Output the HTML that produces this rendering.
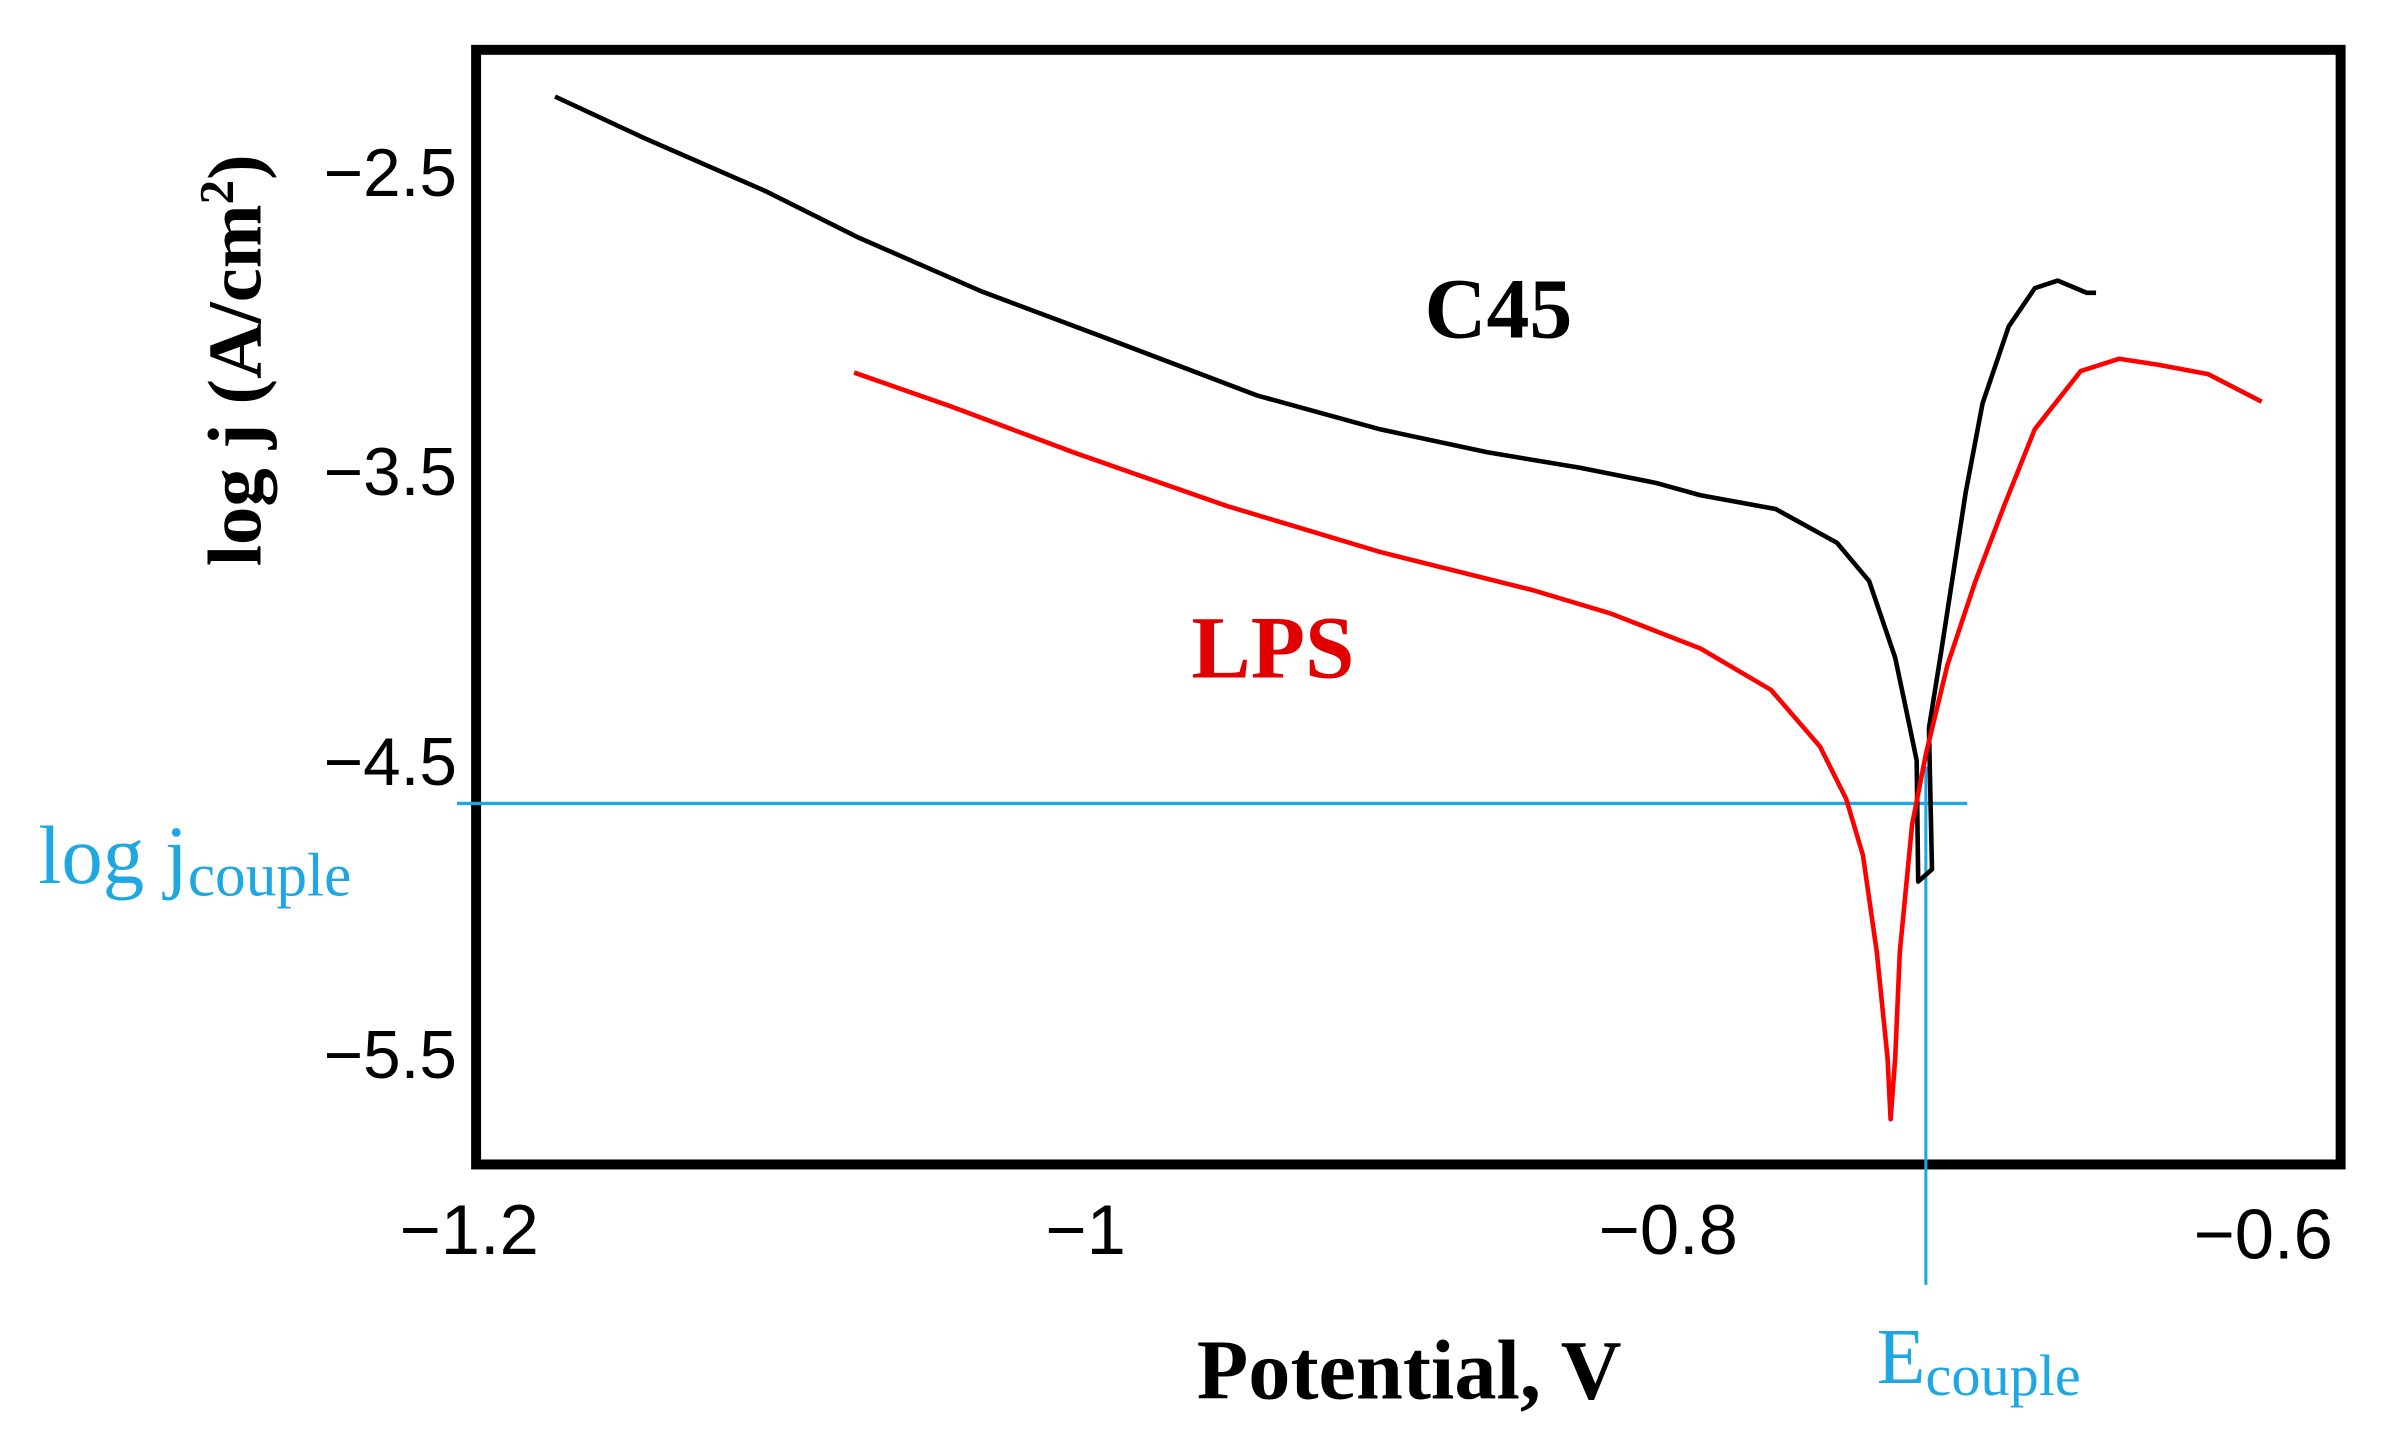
<!DOCTYPE html>
<html><head><meta charset="utf-8"><style>html,body{margin:0;padding:0;background:#fff}svg{display:block}</style></head>
<body>
<svg width="2392" height="1455" viewBox="0 0 1560 949" preserveAspectRatio="none" xmlns="http://www.w3.org/2000/svg">
<rect width="1560" height="949" fill="#fff"/>
<rect x="310.5" y="32.5" width="1216" height="727" fill="none" stroke="#000" stroke-width="6.5"/>
<g font-family="Liberation Sans, sans-serif" font-size="44" fill="#000" text-anchor="end">
<text x="298" y="128">−2.5</text>
<text x="298" y="323">−3.5</text>
<text x="298" y="512">−4.5</text>
<text x="298" y="703">−5.5</text>
</g>
<g font-family="Liberation Sans, sans-serif" font-size="46" fill="#000" text-anchor="middle">
<text x="306" y="818">−1.2</text>
<text x="708" y="818">−1</text>
<text x="1088" y="818">−0.8</text>
<text x="1476" y="821">−0.6</text>
</g>
<text transform="translate(170,235) rotate(-90)" text-anchor="middle" font-family="Liberation Serif, serif" font-weight="bold" font-size="50">log j (A/cm<tspan font-size="32" dy="-18">2</tspan><tspan dy="18">)</tspan></text>
<text x="919" y="912" text-anchor="middle" font-family="Liberation Serif, serif" font-weight="bold" font-size="55">Potential, V</text>
<text x="929" y="220" font-family="Liberation Serif, serif" font-weight="bold" font-size="56">C45</text>
<text x="777" y="442" font-family="Liberation Serif, serif" font-weight="bold" font-size="58" fill="#e00000">LPS</text>
<text x="25" y="576" font-family="Liberation Serif, serif" font-size="54" fill="#1ea7e1">log j<tspan font-size="40" dy="8">couple</tspan></text>
<text x="1224" y="902" font-family="Liberation Serif, serif" font-size="52" fill="#1ea7e1">E<tspan font-size="38" dy="8">couple</tspan></text>
<line x1="298" y1="524" x2="1283" y2="524" stroke="#1ea7e1" stroke-width="2.2"/>
<line x1="1256" y1="500" x2="1256" y2="838" stroke="#1ea7e1" stroke-width="2"/>
<polyline fill="none" stroke="#000" stroke-width="3" stroke-linejoin="round" points="362,63 420,90 500,125 560,155 640,190 720,220 820,258 900,280 970,295 1030,305 1080,315 1109,323 1158,332 1198,354 1219,379 1236,429 1244,467 1250,496 1251,575 1260,567 1258,475 1266,425 1282,321 1293,263 1310,213 1327,188 1342,183 1361,191 1367,191"/>
<polyline fill="none" stroke="#f00" stroke-width="3" stroke-linejoin="round" points="557,243 620,265 700,295 800,330 900,360 1000,385 1050,400 1109,423 1155,450 1187,487 1204,521 1215,558 1224,621 1231,690 1233,730 1236,690 1239,621 1247,538 1256,492 1270,434 1288,380 1307,330 1327,280 1357,242 1382,234 1408,238 1440,244 1475,262"/>
</svg>
</body></html>
